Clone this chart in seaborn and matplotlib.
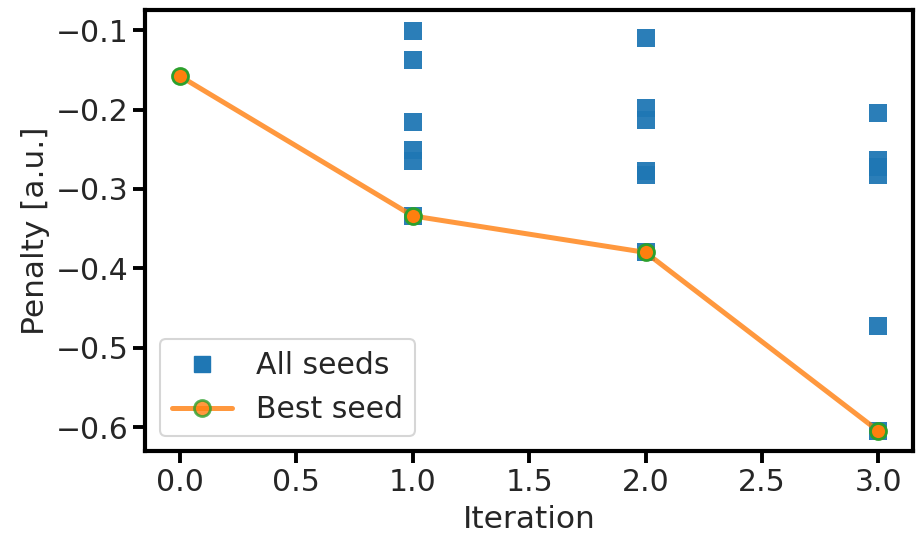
import matplotlib
matplotlib.use("Agg")
import matplotlib.pyplot as plt
import seaborn as sns
import pandas as pd
from matplotlib.lines import Line2D

seed_iter = [1, 1, 1, 1, 1, 1,
             2, 2, 2, 2, 2, 2,
             3, 3, 3, 3, 3, 3]
seed_penalty = [-0.101, -0.137, -0.216, -0.251, -0.265, -0.334,
                -0.110, -0.198, -0.213, -0.278, -0.283, -0.380,
                -0.205, -0.263, -0.272, -0.283, -0.473, -0.605]
best_iter = [0, 1, 2, 3]
best_penalty = [-0.158, -0.334, -0.380, -0.605]
x_ticks = [0.0, 0.5, 1.0, 1.5, 2.0, 2.5, 3.0]
y_ticks = [-0.1, -0.2, -0.3, -0.4, -0.5, -0.6]

sns.set_theme(context="talk", style="ticks", font_scale=1.3)
plt.rcParams['font.family'] = ['DejaVu Sans']

fig = plt.figure(figsize=(9.18, 5.33), dpi=100)
ax = fig.add_axes([0.158, 0.154, 0.837, 0.827])

df_all = pd.DataFrame({"Iteration": seed_iter, "Penalty": seed_penalty})
df_best = pd.DataFrame({"Iteration": best_iter, "Penalty": best_penalty})

sns.scatterplot(data=df_all, x="Iteration", y="Penalty", marker="s", s=160,
                color="#1f77b4", linewidth=0, alpha=0.95, ax=ax, legend=False,
                zorder=2)
sns.lineplot(data=df_best, x="Iteration", y="Penalty", color="#ff7f0e",
             alpha=0.8, lw=3.6, ax=ax, zorder=3, legend=False)
ax.plot(df_best["Iteration"], df_best["Penalty"], linestyle="none", marker="o",
        markersize=11.5, markerfacecolor="#ff7f0e", markeredgecolor="#2ca02c",
        markeredgewidth=2, zorder=4)

h_all = Line2D([], [], linestyle="none", marker="s", markersize=11.5,
               color="#1f77b4")
h_best = Line2D([], [], color="#ff7f0e", alpha=0.8, lw=3.6, marker="o",
                markersize=11.5, markerfacecolor="#ff7f0e",
                markeredgecolor="#2ca02c", markeredgewidth=2)
ax.legend([h_all, h_best], ["All seeds", "Best seed"], loc="lower left",
          fontsize=21.5)

ax.set_xlabel("Iteration", fontsize=22.5, labelpad=6)
ax.set_ylabel("Penalty [a.u.]", fontsize=22.5)
ax.set_xticks(x_ticks)
ax.set_xticklabels([f"{v:.1f}" for v in x_ticks])
ax.set_yticks(y_ticks)
ax.set_yticklabels([f"\u2212{abs(v):.1f}" for v in y_ticks])
ax.set_xlim(-0.15, 3.15)
ax.set_ylim(-0.630, -0.0748)
for s in ax.spines.values():
    s.set_linewidth(3)
    s.set_color("black")
ax.tick_params(width=2.8, length=8.5, color="black", labelsize=21.5)

fig.savefig("out.png", dpi=100)
